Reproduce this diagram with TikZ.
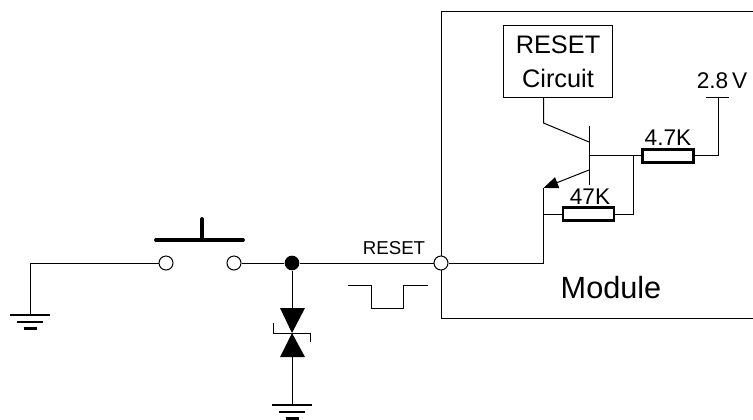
\documentclass[tikz,border=0pt]{standalone}
\usepackage{fontspec}
\setmainfont{Liberation Sans}
\usetikzlibrary{arrows.meta}

\tikzset{
  wire/.style={line width=0.75pt},
  thickwire/.style={line width=2.8pt,line cap=round},
  terminal/.style={circle,draw,fill=white,line width=0.75pt,inner sep=0pt,minimum size=10.5pt},
  junction/.style={circle,fill=black,inner sep=0pt,minimum size=11pt},
  resistor/.style={rectangle,draw,line width=1.8pt,inner sep=0pt,minimum width=38pt,minimum height=10pt},
  rlabel/.style={inner sep=0pt,font=\fontsize{17}{17}\selectfont},
  boxlabel/.style={inner sep=0pt,font=\fontsize{19}{19}\selectfont},
}

\begin{document}
\begin{tikzpicture}[x=0.75pt,y=-0.75pt]
\useasboundingbox (0,0) rectangle (753,419);

% Draw module outline
\draw[wire] (753,11) -- (441,11) -- (441,318) -- (753,318);
\node[font=\fontsize{23}{23}\selectfont,inner sep=0pt] (modulelabel) at (611,288) {Module};

% Draw reset circuit box
\node[rectangle,draw,wire,minimum width=81.75pt,minimum height=54pt] (resetbox) at (557.5,61) {};
\node[boxlabel] (resettext) at (558,45) {RESET};
\node[boxlabel] (circuittext) at (558,78) {Circuit};

% Draw transistor
\coordinate (boxout) at (543.5,97);
\coordinate (bend) at (543.5,123);
\coordinate (base) at (589,142);
\coordinate (bartop) at (589,126);
\coordinate (barbot) at (589,185);
\coordinate (barmid) at (589,155);
\coordinate (emit) at (589,170);
\coordinate (tip) at (543.5,188);
\draw[wire] (boxout) -- (bend) -- (base);
\draw[wire] (bartop) -- (barbot);
\draw[wire,-{Triangle[length=11pt,width=8.5pt]}] (emit) -- (tip);

% Draw resistors with their labels
\node[resistor] (rtop) at (668,156) {};
\node[rlabel] (rtoplabel) at (668,138) {4.7K};
\node[resistor] (rbot) at (588.5,214) {};
\node[rlabel] (rbotlabel) at (590,197) {47K};

% Draw supply
\coordinate (vcc) at (718,97);
\coordinate (vccleft) at (706,97);
\coordinate (vccright) at (729,97);
\coordinate (vccbend) at (718,155);
\coordinate (split) at (633,155);
\coordinate (splitbot) at (633,214);
\coordinate (emitbot) at (543.5,214);
\draw[wire] (vccleft) -- (vccright);
\node[rlabel] (vcclabel) at (722,81) {2.8\,V};
\draw[wire] (barmid) -- (rtop.west |- barmid);
\draw[wire] (rtop.east |- barmid) -- (vccbend) -- (vcc);
\draw[wire] (split) -- (splitbot) -- (rbot.east);
\draw[wire] (rbot.west) -- (emitbot);

% Draw reset line and terminal
\node[terminal] (pin) at (441,263) {};
\node[junction] (dot) at (292,263) {};
\node[inner sep=0pt,font=\fontsize{14}{14}\selectfont] (resetlabel) at (394,248) {RESET};
\coordinate (emitlow) at (543.5,263);
\draw[wire] (tip) -- (emitlow) -- (pin);
\draw[wire] (dot) -- (pin);

% Draw pulse
\coordinate (pulsea) at (348,285.5);
\coordinate (pulseb) at (371.5,285.5);
\coordinate (pulsec) at (371.5,308);
\coordinate (pulsed) at (403,308);
\coordinate (pulsee) at (403,285.5);
\coordinate (pulsef) at (428,285.5);
\draw[wire] (pulsea) -- (pulseb) -- (pulsec) -- (pulsed) -- (pulsee) -- (pulsef);

% Draw push button
\node[terminal] (contactl) at (166,263) {};
\node[terminal] (contactr) at (234,263) {};
\coordinate (gndtop) at (30,263);
\coordinate (gndl) at (30,315);
\coordinate (capl) at (156,240);
\coordinate (capr) at (243,240);
\coordinate (capm) at (202,240);
\coordinate (capt) at (202,219);
\draw[thickwire] (capl) -- (capr);
\draw[thickwire] (capm) -- (capt);
\draw[wire] (contactl) -- (gndtop) -- (gndl);
\draw[wire] (contactr) -- (dot);

% Draw left ground
\draw[line width=1.6pt] (gndl) ++(-20,0) -- ++(40,0);
\draw[line width=1.6pt] (gndl) ++(-13,7) -- ++(26,0);
\draw[line width=1.6pt] (gndl) ++(-6.5,13.5) -- ++(13,0);

% Draw TVS diode
\coordinate (tvstop) at (292,308);
\coordinate (tvsmid) at (292,333);
\coordinate (tvsbot) at (292,357);
\coordinate (gndr) at (292,405);
\draw[wire] (dot) -- (tvstop);
\fill (280,308) -- (305,308) -- (tvsmid) -- cycle;
\fill (280,357) -- (305,357) -- (tvsmid) -- cycle;
\draw[wire] (273.5,323) -- (273.5,333) -- (310.5,333) -- (310.5,342);
\draw[wire] (tvsbot) -- (gndr);

% Draw right ground
\draw[line width=1.6pt] (gndr) ++(-20,0) -- ++(40,0);
\draw[line width=1.6pt] (gndr) ++(-13,7) -- ++(26,0);
\draw[line width=1.6pt] (gndr) ++(-6.5,13.5) -- ++(13,0);

\end{tikzpicture}
\end{document}
